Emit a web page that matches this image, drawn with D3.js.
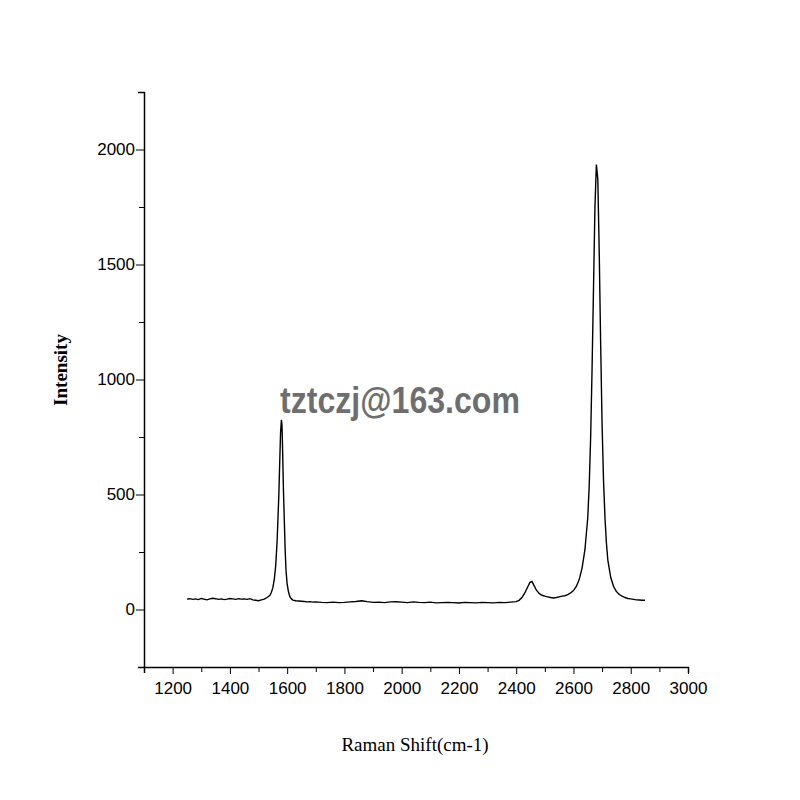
<!DOCTYPE html>
<html><head><meta charset="utf-8">
<script src="https://cdn.jsdelivr.net/npm/d3@7"></script>
<style>body{margin:0;background:#fff}</style>
</head><body>
<script>
var shift = [1250,1260,1270,1280,1290,1300,1310,1320,1330,1340,1350,1360,1370,1380,1390,1400,1410,1420,1430,1440,1450,1460,1470,1480,1490,1500,1510,1520,1530,1540,1545,1550,1555,1560,1565,1568,1571,1574,1577,1580,1582,1584,1587,1590,1593,1596,1600,1605,1610,1615,1620,1630,1640,1650,1660,1670,1680,1690,1700,1720,1740,1760,1780,1800,1820,1840,1860,1870,1880,1900,1920,1940,1960,1980,2000,2020,2040,2060,2080,2100,2120,2140,2160,2180,2200,2220,2240,2260,2280,2300,2320,2340,2360,2380,2400,2410,2420,2430,2440,2448,2455,2462,2470,2480,2490,2500,2510,2520,2530,2540,2550,2560,2570,2580,2590,2600,2610,2620,2630,2640,2650,2655,2660,2665,2670,2675,2680,2685,2690,2695,2700,2705,2710,2715,2720,2730,2740,2750,2760,2770,2780,2790,2800,2810,2820,2830,2840,2850];
var intensity = [45,47,44,46,43,48,45,42,46,49,47,44,46,43,45,48,46,44,47,45,46,44,47,42,40,38,42,45,52,62,75,95,130,190,300,400,500,640,770,825,800,700,520,390,260,170,110,75,55,46,41,38,37,36,35,33,34,32,33,31,30,32,30,31,33,35,38,36,34,31,32,30,33,34,32,30,33,31,30,32,29,30,31,30,28,31,30,29,31,30,29,31,30,32,34,40,52,72,98,118,122,105,85,70,62,58,55,52,50,52,55,58,60,65,72,82,100,130,180,260,400,540,750,1050,1400,1750,1935,1870,1550,1150,800,560,400,290,215,140,100,78,65,58,52,48,46,44,42,41,40,40];
var xTicks = [1200,1400,1600,1800,2000,2200,2400,2600,2800,3000];
var yTicks = [0,500,1000,1500,2000];

var svg = d3.select('body').append('svg').attr('width',800).attr('height',800);
var x = d3.scaleLinear().domain([1100,3000]).range([144,688]);
var y = d3.scaleLinear().domain([-250,2250]).range([667,92]);

var font = '"Liberation Sans Narrow", "Liberation Sans", Arial, sans-serif';

var gx = svg.append('g').attr('transform','translate(0,667)')
  .call(d3.axisBottom(x).tickValues(d3.range(1100,3001,100)).tickSize(6)
    .tickFormat(function(d){ return xTicks.indexOf(d) >= 0 ? d : ''; }));
gx.selectAll('text').style('font-family',font).style('font-size','17px').attr('dy','1.05em');
gx.selectAll('.tick line').attr('y2',function(d){ return xTicks.indexOf(d)>=0 ? 7 : 5; });

var gy = svg.append('g').attr('transform','translate(144,0)')
  .call(d3.axisLeft(y).tickValues(d3.range(-250,2251,250)).tickSize(6)
    .tickFormat(function(d){ return yTicks.indexOf(d) >= 0 ? d : ''; }));
gy.selectAll('text').style('font-family',font).style('font-size','17px');
gy.selectAll('.tick line').attr('x2',function(d){ return yTicks.indexOf(d)>=0 ? -8 : -5; });
svg.selectAll('.domain').attr('stroke-width',1.5);
gy.selectAll('.tick').filter(function(d){return d===-250||d===2250;}).remove();

var line = d3.line().x(function(d,i){return x(shift[i]);}).y(function(d){return y(d);});
svg.append('path').datum(intensity).attr('d',line)
  .attr('fill','none').attr('stroke','#000').attr('stroke-width',1.4);

svg.append('text').attr('x',415).attr('y',751).attr('text-anchor','middle')
  .style('font-family','"Liberation Serif", "Times New Roman", serif').style('font-size','19px')
  .text('Raman Shift(cm-1)');
svg.append('text').attr('transform','translate(67,370) rotate(-90)').attr('text-anchor','middle')
  .style('font-family','"Liberation Serif", "Times New Roman", serif').style('font-size','19px').style('font-weight','bold')
  .text('Intensity');
svg.append('text').attr('x',400).attr('y',413).attr('text-anchor','middle')
  .style('font-family','"Liberation Sans", Arial, sans-serif').style('font-size','37px').style('font-weight','bold')
  .attr('fill','#6e6e6e').attr('textLength',240).attr('lengthAdjust','spacingAndGlyphs')
  .text('tztczj@163.com');
</script>
</body></html>
